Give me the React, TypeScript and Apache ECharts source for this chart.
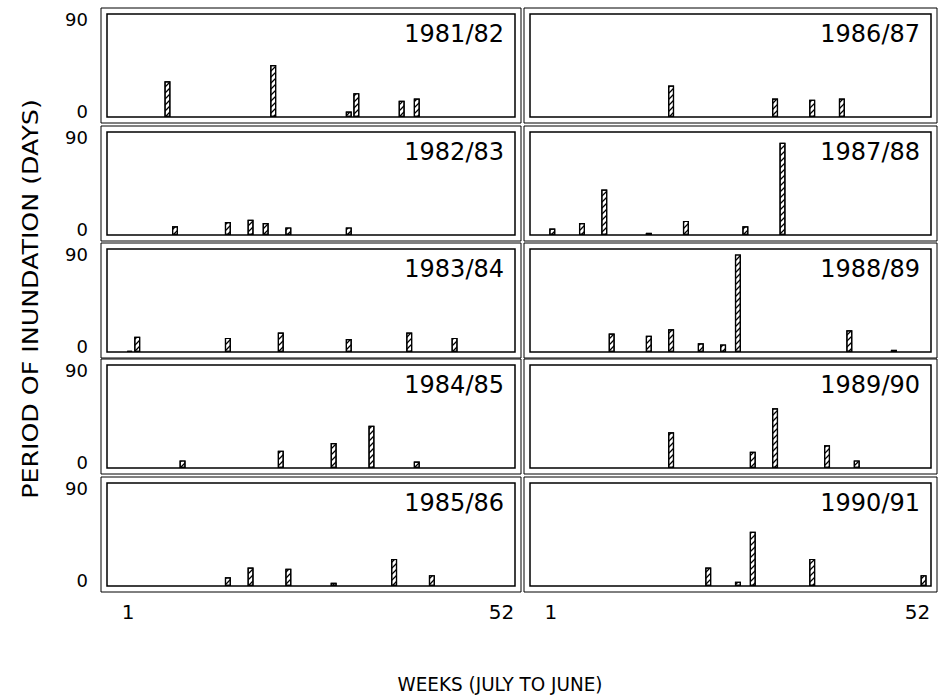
import { useEffect, useRef } from "react";
import * as echarts from "echarts";

// Flood seasons, left column then right column
const SEASONS = [
  "1981/82", "1982/83", "1983/84", "1984/85", "1985/86",
  "1986/87", "1987/88", "1988/89", "1989/90", "1990/91",
];

// Week of the season (1 = first week of July) and days inundated
const WEEKS_8182 = [7, 21, 31, 32, 38, 40];
const DAYS_8182 = [33, 48, 5, 22, 15, 17];
const WEEKS_8283 = [8, 15, 18, 20, 23, 31];
const DAYS_8283 = [8, 12, 14, 11, 7, 7];
const WEEKS_8384 = [2, 3, 15, 22, 31, 39, 45];
const DAYS_8384 = [1, 14, 13, 18, 12, 18, 13];
const WEEKS_8485 = [9, 22, 29, 34, 40];
const DAYS_8485 = [7, 16, 23, 39, 6];
const WEEKS_8586 = [15, 18, 23, 29, 37, 42];
const DAYS_8586 = [8, 17, 16, 3, 25, 10];
const WEEKS_8687 = [18, 32, 37, 41];
const DAYS_8687 = [29, 17, 16, 17];
const WEEKS_8788 = [2, 6, 9, 15, 20, 28, 33];
const DAYS_8788 = [6, 11, 42, 2, 13, 8, 85];
const WEEKS_8889 = [10, 15, 18, 22, 25, 27, 42, 48];
const DAYS_8889 = [17, 15, 21, 8, 7, 90, 20, 2];
const WEEKS_8990 = [18, 29, 32, 39, 43];
const DAYS_8990 = [33, 15, 55, 21, 7];
const WEEKS_9091 = [23, 27, 29, 37, 52];
const DAYS_9091 = [17, 4, 50, 25, 10];

const WEEK_LISTS = [
  WEEKS_8182, WEEKS_8283, WEEKS_8384, WEEKS_8485, WEEKS_8586,
  WEEKS_8687, WEEKS_8788, WEEKS_8889, WEEKS_8990, WEEKS_9091,
];
const DAY_LISTS = [
  DAYS_8182, DAYS_8283, DAYS_8384, DAYS_8485, DAYS_8586,
  DAYS_8687, DAYS_8788, DAYS_8889, DAYS_8990, DAYS_9091,
];

const X_TICKS = [1, 52];
const Y_TICKS = [0, 90];

const FONT = "DejaVu Sans";

// panel geometry
const COL_LEFT = [107, 530];
const COL_WIDTH = [408, 401];
const ROW_TOP = [14, 132, 249, 365, 483];
const ROW_H = 103;
const FRAME_GAP = 6;

// one tile of "/" hatching: a diagonal band plus the two corner pieces
// that join it to the neighbouring tiles
const HATCH_TILE =
  "path://M0,8.5 L8.5,0 L10,0 L10,1.5 L1.5,10 L0,10 Z " +
  "M0,0 L1.5,0 L0,1.5 Z M10,8.5 L10,10 L8.5,10 Z";

export default function App() {
  const ref = useRef<HTMLDivElement>(null);

  useEffect(() => {
    const chart = echarts.init(ref.current!, null, { renderer: "svg" });

    const grids: any[] = [];
    const xAxes: any[] = [];
    const yAxes: any[] = [];
    const series: any[] = [];
    const graphics: any[] = [];

    SEASONS.forEach((season, i) => {
      const col = i < 5 ? 0 : 1;
      const row = i % 5;
      const left = COL_LEFT[col];
      const width = COL_WIDTH[col];
      const top = ROW_TOP[row];

      grids.push({
        left,
        top,
        width,
        height: ROW_H,
        show: true,
        borderColor: "#000",
        borderWidth: 1.5,
        backgroundColor: "transparent",
      });

      xAxes.push({
        gridIndex: i,
        type: "value",
        min: -1,
        max: 53,
        axisLine: { show: false },
        axisTick: { show: false },
        splitLine: { show: false },
        axisLabel:
          row === 4
            ? {
                show: true,
                customValues: X_TICKS,
                margin: 16,
                color: "#000",
                fontFamily: FONT,
                fontSize: 20,
                formatter: (v: number) =>
                  v === X_TICKS[0] ? `{first|${v}}` : `{last|${v}}`,
                rich: {
                  first: { fontFamily: FONT, fontSize: 20, color: "#000", padding: [0, 0, 0, 12] },
                  last: { fontFamily: FONT, fontSize: 20, color: "#000", padding: [0, 12, 0, 0] },
                },
              }
            : { show: false },
      });

      yAxes.push({
        gridIndex: i,
        type: "value",
        min: 0,
        max: 95,
        axisLine: { show: false },
        axisTick: { show: false },
        splitLine: { show: false },
        axisLabel:
          col === 0
            ? {
                show: true,
                customValues: Y_TICKS,
                margin: 19,
                color: "#000",
                fontFamily: FONT,
                fontSize: 18,
                formatter: (v: number) => (v === 0 ? `{zero|${v}}` : `{top|${v}}`),
                rich: {
                  zero: { fontFamily: FONT, fontSize: 18, color: "#000", padding: [0, 0, 12, 0] },
                  top: { fontFamily: FONT, fontSize: 18, color: "#000" },
                },
              }
            : { show: false },
      });

      const weeks = WEEK_LISTS[i];
      const days = DAY_LISTS[i];
      series.push({
        type: "bar",
        name: season,
        xAxisIndex: i,
        yAxisIndex: i,
        barWidth: 6,
        silent: true,
        data: weeks.map((w, k) => [w, days[k]]),
        itemStyle: {
          color: "#fff",
          borderColor: "#000",
          borderWidth: 1.2,
          decal: {
            symbol: HATCH_TILE,
            symbolSize: 1,
            symbolKeepAspect: false,
            dashArrayX: [6, 0],
            dashArrayY: [6, 0],
            rotation: 0,
            color: "#000",
          },
        },
      });

      // outer frame of each panel
      graphics.push({
        type: "rect",
        silent: true,
        shape: {
          x: left - FRAME_GAP,
          y: top - FRAME_GAP,
          width: width + FRAME_GAP * 2,
          height: ROW_H + FRAME_GAP * 2,
        },
        style: { fill: "none", stroke: "#000", lineWidth: 1 },
      });

      // season label in the upper right corner
      graphics.push({
        type: "text",
        silent: true,
        x: left + width - 11,
        y: top + 20,
        style: {
          text: season,
          font: `24px ${FONT}`,
          fill: "#000",
          align: "right",
          verticalAlign: "middle",
        },
      });
    });

    graphics.push({
      type: "text",
      silent: true,
      x: 31,
      y: 299,
      rotation: Math.PI / 2,
      scaleX: 1.15,
      style: {
        text: "PERIOD OF INUNDATION (DAYS)",
        font: `22px ${FONT}`,
        fill: "#000",
        align: "center",
        verticalAlign: "middle",
      },
    });

    graphics.push({
      type: "text",
      silent: true,
      x: 500,
      y: 684,
      scaleX: 0.92,
      style: {
        text: "WEEKS (JULY TO JUNE)",
        font: `20px ${FONT}`,
        fill: "#000",
        align: "center",
        verticalAlign: "middle",
      },
    });

    chart.setOption({
      animation: false,
      backgroundColor: "#fff",
      grid: grids,
      xAxis: xAxes,
      yAxis: yAxes,
      series,
      graphic: graphics,
    });

    return () => chart.dispose();
  }, []);

  return (
    <div
      ref={ref}
      style={{ position: "fixed", left: 0, top: 0, width: 938, height: 699 }}
    />
  );
}
